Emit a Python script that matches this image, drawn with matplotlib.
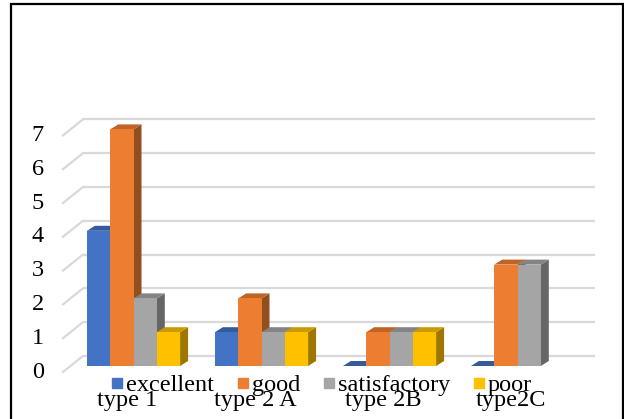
import numpy as np
import matplotlib
matplotlib.use("Agg")
import matplotlib.pyplot as plt
from matplotlib.lines import Line2D
from matplotlib.patches import Rectangle
import matplotlib.colors as mcolors

categories = ["type 1", "type 2 A", "type 2B", "type2C"]
series = ["excellent", "good", "satisfactory", "poor"]
excellent = [4, 1, 0, 0]
good = [7, 2, 1, 3]
satisfactory = [2, 1, 1, 3]
poor = [1, 1, 1, np.nan]
colors = ["#4472C4", "#ED7D31", "#A5A5A5", "#FFC000"]
yticks = [0, 1, 2, 3, 4, 5, 6, 7]

values = [excellent, good, satisfactory, poor]
FONT = "Liberation Serif"
FS = 17.5

W, H = 624, 419
fig = plt.figure(figsize=(W / 100, H / 100), dpi=100)
ax = fig.add_axes([0, 0, 1, 1])
# mapping: 1 x unit = 128 px, 1 y unit = 33.8 px
xpx0, ypx0, sx, sy = 133.5, 366.0, 128.0, 33.8
ax.set_xlim(-xpx0 / sx, (W - xpx0) / sx)
ax.set_ylim(-(H - ypx0) / sy, ypx0 / sy)
ax.axis("off")

grid_c = "#d9d9d9"
back_dy = 10 / sy
front_dy = -6 / sy
xl_front, xl_back, xr_back = -0.551, -0.395, 3.605
for v in yticks:
    ax.plot([xl_back, xr_back], [v + back_dy, v + back_dy], color=grid_c, lw=1.6, zorder=1, solid_capstyle="butt")
    ax.plot([xl_front, xl_back], [v + front_dy, v + back_dy], color=grid_c, lw=1.6, zorder=1)
    ax.text(-0.699, v + front_dy, str(v), ha="right", va="center", fontsize=FS, family=FONT, color="#000000")

w = 0.182
ddx, ddy = 8 / sx, 5 / sy
z = 2
for g in range(len(categories)):
    for i, s in enumerate(series):
        v = values[i][g]
        if np.isnan(v):
            continue
        c = np.array(mcolors.to_rgb(colors[i]))
        x0 = g + (i - 2) * w
        x1 = x0 + w
        side_c = c * 0.62
        top_c = c * 0.8
        if v > 0:
            ax.fill([x1, x1 + ddx, x1 + ddx, x1], [0, ddy, v + ddy, v], color=side_c, lw=0, zorder=z)
        ax.fill([x0, x1, x1 + ddx, x0 + ddx], [v, v, v + ddy, v + ddy], color=top_c, lw=0, zorder=z)
        if v > 0:
            ax.bar([x0], [v], width=w, align="edge", color=colors[i], lw=0, zorder=z)
        z += 1

for g, cat in enumerate(categories):
    ax.text(g - 0.05, -1.02, cat, ha="center", va="center", fontsize=FS, family=FONT, color="#000000")

handles = [Line2D([], [], marker="s", linestyle="none", markersize=7.5, markerfacecolor=c, markeredgecolor=c) for c in colors]
leg = fig.legend(handles, series, loc="center", bbox_to_anchor=(321.5 / W, 1 - 385 / H), ncol=4,
                 frameon=False, prop={"family": FONT, "size": FS}, handlelength=0.5, handletextpad=0.1,
                 columnspacing=0.95, borderpad=0, borderaxespad=0)

fig.patches.append(Rectangle((10.5 / W, -0.1), (622.5 - 10.5) / W, 1.1 - 4.5 / H, transform=fig.transFigure,
                             fill=False, edgecolor="#000000", lw=1.6, zorder=10))

fig.savefig("out.png", dpi=100)
